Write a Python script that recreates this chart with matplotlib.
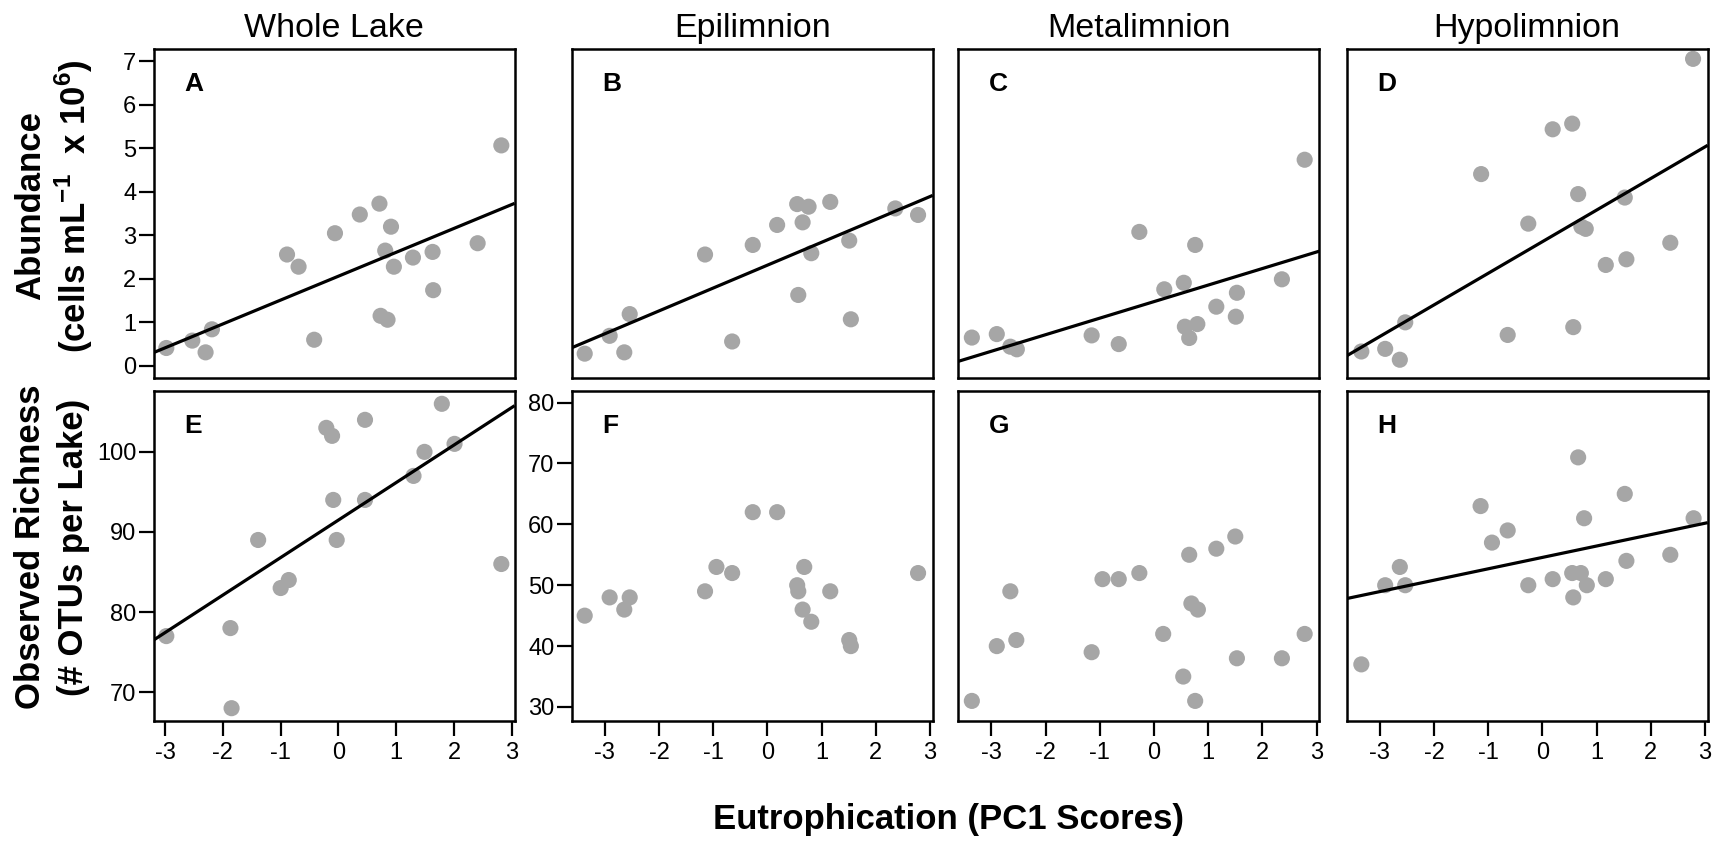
import numpy as np
import matplotlib.pyplot as plt

plt.rcParams['font.family'] = ['Liberation Sans', 'DejaVu Sans']
plt.rcParams['axes.unicode_minus'] = False
plt.rcParams['mathtext.fontset'] = 'custom'
plt.rcParams['mathtext.rm'] = 'Liberation Sans'
plt.rcParams['mathtext.bf'] = 'Liberation Sans:bold'

columns = ["Whole Lake", "Epilimnion", "Metalimnion", "Hypolimnion"]
letters = ["A", "B", "C", "D", "E", "F", "G", "H"]

# abundance (cells mL-1 x 10^6) against PC1 score
pc1_a = [-2.98, -2.53, -2.30, -2.19, -0.42, -0.89, -0.69, -0.06, 0.37, 0.71,
         0.91, 0.81, 0.96, 0.73, 0.85, 1.29, 1.63, 1.64, 2.41, 2.82]
abund_a = [0.41, 0.58, 0.31, 0.84, 0.60, 2.56, 2.28, 3.05, 3.48, 3.73,
           3.20, 2.65, 2.28, 1.15, 1.06, 2.49, 2.62, 1.74, 2.82, 5.07]

pc1_b = [-3.37, -2.91, -2.64, -2.54, -1.15, -0.65, -0.27, 0.18, 0.55, 0.76,
         0.65, 0.81, 0.57, 1.16, 1.51, 1.54, 2.36, 2.78]
abund_b = [0.28, 0.69, 0.31, 1.19, 2.56, 0.56, 2.78, 3.24, 3.72, 3.66,
           3.30, 2.59, 1.63, 3.77, 2.88, 1.07, 3.62, 3.47]

pc1_c = [-3.36, -2.90, -2.65, -2.53, -1.15, -0.65, -0.27, 0.19, 0.55, 0.76,
         0.57, 0.80, 0.65, 1.15, 1.53, 1.51, 2.36, 2.78]
abund_c = [0.65, 0.73, 0.44, 0.38, 0.70, 0.50, 3.08, 1.76, 1.91, 2.78,
           0.90, 0.96, 0.64, 1.36, 1.68, 1.13, 1.99, 4.74]

pc1_d = [-3.34, -2.90, -2.63, -2.53, -1.13, -0.64, -0.26, 0.19, 0.55, 0.66,
         0.72, 0.80, 0.57, 1.17, 1.55, 1.52, 2.36, 2.78]
abund_d = [0.33, 0.39, 0.14, 1.00, 4.41, 0.71, 3.27, 5.44, 5.57, 3.95,
           3.20, 3.15, 0.89, 2.32, 2.45, 3.87, 2.83, 7.06]

# observed richness (# OTUs per lake) against PC1 score
pc1_e = [-2.98, -1.87, -1.85, -1.39, -1.00, -0.86, -0.21, -0.11, -0.09, -0.03,
         0.46, 0.46, 1.30, 1.49, 1.79, 2.01, 2.82]
rich_e = [77, 78, 68, 89, 83, 84, 103, 102, 94, 89,
          104, 94, 97, 100, 106, 101, 86]

pc1_f = [-3.37, -2.91, -2.64, -2.54, -1.15, -0.94, -0.65, -0.27, 0.18, 0.55,
         0.57, 0.68, 0.65, 0.81, 1.16, 1.51, 1.54, 2.78]
rich_f = [45, 48, 46, 48, 49, 53, 52, 62, 62, 50,
          49, 53, 46, 44, 49, 41, 40, 52]

pc1_g = [-3.36, -2.90, -2.65, -2.54, -1.15, -0.95, -0.65, -0.27, 0.17, 0.54,
         0.65, 0.69, 0.81, 0.76, 1.15, 1.50, 1.53, 2.36, 2.78]
rich_g = [31, 40, 49, 41, 39, 51, 51, 52, 42, 35,
          55, 47, 46, 31, 56, 58, 38, 38, 42]

pc1_h = [-3.34, -2.90, -2.63, -2.53, -1.14, -0.93, -0.64, -0.26, 0.19, 0.66,
         0.77, 0.55, 0.71, 0.82, 0.57, 1.17, 1.52, 1.55, 2.36, 2.79]
rich_h = [37, 50, 53, 50, 63, 57, 59, 50, 51, 71,
          61, 52, 52, 50, 48, 51, 65, 54, 55, 61]

# (x, y, draw regression line)
panels = [(pc1_a, abund_a, True), (pc1_b, abund_b, True),
          (pc1_c, abund_c, True), (pc1_d, abund_d, True),
          (pc1_e, rich_e, True), (pc1_f, rich_f, False),
          (pc1_g, rich_g, False), (pc1_h, rich_h, True)]

W, H = 1726, 841
fig = plt.figure(figsize=(W / 100, H / 100), dpi=100)

# panel frames in pixels
lefts = [153.6, 571.7, 958.3, 1346.7]
width = 361.0
rows = [(49.3, 378.0), (391.0, 721.0)]

axes = []
for r, (top, bottom) in enumerate(rows):
    for c, left in enumerate(lefts):
        ax = fig.add_axes([left / W, 1 - bottom / H, width / W, (bottom - top) / H])
        axes.append(ax)

for i, ax in enumerate(axes):
    x, y, fitted = panels[i]
    col = i % 4
    ax.scatter(x, y, s=135, color='#a6a6a6', edgecolors='none', zorder=2)

    if col == 0:
        xlim = (-3.2, 3.05)
    else:
        xlim = (-3.61, 3.05)
    ax.set_xlim(xlim)

    if fitted:
        slope, icept = np.polyfit(x, y, 1)
        xs = np.array(xlim)
        ax.plot(xs, icept + slope * xs, color='black', lw=2.3, zorder=3,
                solid_capstyle='butt')

    if i < 4:
        ax.set_ylim(-0.28, 7.28)
        ax.set_xticks([])
        ax.set_title(columns[col], fontsize=24.5, pad=9)
    elif i == 4:
        ax.set_ylim(66.4, 107.6)
    else:
        ax.set_ylim(27.7, 81.9)

    if i == 0:
        ax.set_yticks(range(0, 8))
    elif i == 4:
        ax.set_yticks([70, 80, 90, 100])
    elif i == 5:
        ax.set_yticks([30, 40, 50, 60, 70, 80])
    else:
        ax.set_yticks([])

    if i >= 4:
        ax.set_xticks([-3, -2, -1, 0, 1, 2, 3])

    ax.tick_params(axis='both', direction='out', length=11, width=1.6,
                   labelsize=17, colors='black')
    ax.tick_params(axis='y', pad=1.5)
    ax.tick_params(axis='x', pad=4)
    for sp in ax.spines.values():
        sp.set_linewidth(1.8)

    ax.text(0.085, 0.895, letters[i], transform=ax.transAxes, fontsize=19,
            fontweight='bold', ha='left', va='center')

fig.text(31 / W, 1 - 206 / H, "Abundance", rotation=90, fontsize=25,
         fontweight='bold', ha='center', va='center')
fig.text(74 / W, 1 - 206 / H, r"(cells mL$^{\mathbf{-1}}$  x 10$^{\mathbf{6}}$)",
         rotation=90, fontsize=25, fontweight='bold', ha='center', va='center')
fig.text(31 / W, 1 - 547 / H, "Observed Richness", rotation=90, fontsize=25,
         fontweight='bold', ha='center', va='center')
fig.text(74 / W, 1 - 547 / H, "(# OTUs per Lake)", rotation=90, fontsize=25,
         fontweight='bold', ha='center', va='center')
fig.text(948 / W, 1 - 820 / H, "Eutrophication (PC1 Scores)", fontsize=25,
         fontweight='bold', ha='center', va='center')

fig.savefig("out.png", dpi=100)
